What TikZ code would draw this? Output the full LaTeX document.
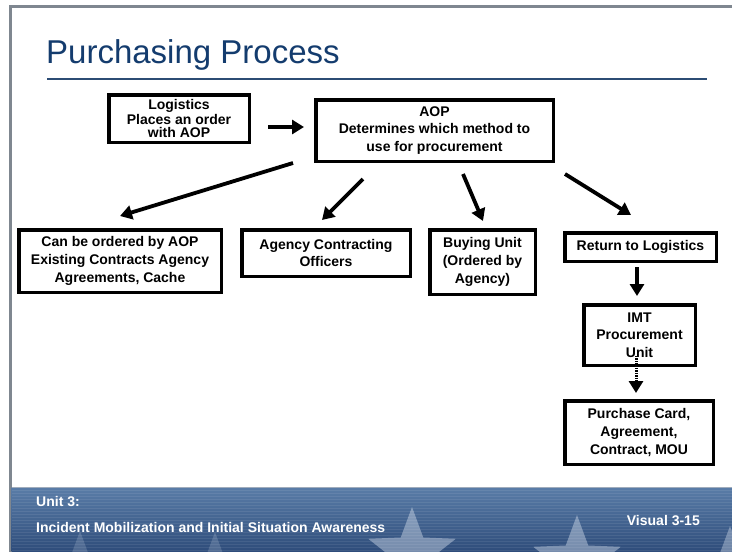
\documentclass[tikz,border=0pt]{standalone}
\usepackage{fontspec}
\setmainfont{Liberation Sans}
\usetikzlibrary{arrows.meta,shapes.geometric}
\definecolor{titleblue}{HTML}{143C6E}
\definecolor{rulecol}{HTML}{2C4C74}
\definecolor{framegray}{HTML}{7F8790}
\definecolor{bantop}{HTML}{5A7DA8}
\definecolor{banbot}{HTML}{2E4C7A}
\definecolor{starcol}{HTML}{D0DBEA}
\begin{document}
\begin{tikzpicture}[x=1pt,y=-1pt,
  box/.style={draw=black,line width=3.5pt,fill=white,inner sep=0pt,align=center,
    font=\fontsize{14}{17.6}\selectfont\bfseries},
  arr/.style={line width=3.8pt,-{Triangle[length=12pt,width=14pt]}},
  dotarr/.style={line width=3pt,dash pattern=on 1.3pt off 1.1pt,-{Triangle[length=12pt,width=14pt]}},
  bantext/.style={text=white,inner sep=0pt,font=\fontsize{14}{16}\selectfont\bfseries},
  bgstar/.style={star,star points=5,star point ratio=2.4,fill=starcol,inner sep=0pt,draw=none},
]
\useasboundingbox (0,0) rectangle (732,552);
\fill[white] (0,0) rectangle (732,552);
% slide frame
\fill[framegray] (9,5) rectangle (11.5,552);
\fill[framegray] (9,5) rectangle (732,7.5);
% title
\node[anchor=base west,inner sep=0pt,text=titleblue,font=\fontsize{33}{33}\selectfont] (title) at (46,63) {Purchasing Process};
\draw[rulecol,line width=2pt] (47,79) -- (707,79);
% banner
\fill[top color=bantop,bottom color=banbot] (11.5,487) rectangle (732,552);
\begin{scope}
\clip (11.5,487) rectangle (732,552);
\node[bgstar,opacity=0.45,minimum size=92pt] (s1) at (412,553) {};
\node[bgstar,opacity=0.45,minimum size=92pt] (s2) at (577,561) {};
\node[bgstar,opacity=0.4,minimum size=84pt] (s3) at (730,568) {};
\node[bgstar,opacity=0.2,minimum size=80pt] (s4) at (215,572) {};
\node[bgstar,opacity=0.2,minimum size=70pt] (s5) at (80,566) {};
\foreach \yy in {490,493,...,552} \fill[white,opacity=0.08] (11.5,\yy) rectangle (732,\yy+1);
\end{scope}
\draw[color={rgb,255:red,160;green,172;blue,188},line width=1.5pt] (11.5,487.5) -- (732,487.5);
\node[bantext,anchor=west] (unit) at (36,502) {Unit 3:};
\node[bantext,anchor=west] (course) at (36,527) {Incident Mobilization and Initial Situation Awareness};
\node[bantext,anchor=east] (visual) at (700,521) {Visual 3-15};
% boxes
\node[box,minimum width=140.5pt,minimum height=47.5pt,font=\fontsize{14}{13}\selectfont\bfseries] (lg) at (179,118.5) {Logistics\\Places an order\\with AOP};
\node[box,minimum width=237.5pt,minimum height=61.5pt] (aop) at (434.5,130.5) {AOP\\Determines which method to\\use for procurement};
\node[box,minimum width=202.5pt,minimum height=62.5pt] (b1) at (120,261) {Can be ordered by AOP\\Existing Contracts Agency\\Agreements, Cache};
\node[box,minimum width=168.5pt,minimum height=46.5pt] (b2) at (326,253) {Agency Contracting\\Officers};
\node[box,minimum width=105.5pt,minimum height=64.5pt] (b3) at (482.5,262) {Buying Unit\\(Ordered by\\Agency)};
\node[box,minimum width=151.5pt,minimum height=28.5pt] (b4) at (640.5,247) {Return to Logistics};
\node[box,minimum width=111.5pt,minimum height=60.5pt] (imt) at (639.5,335) {IMT\\Procurement\\Unit};
\node[box,minimum width=148.5pt,minimum height=63.5pt] (pc) at (639,432.5) {Purchase Card,\\Agreement,\\Contract, MOU};
% connector end points
\coordinate (c0s) at (268,127); \coordinate (c0e) at (304,127);
\coordinate (c1s) at (293,163); \coordinate (c1e) at (120,216);
\coordinate (c2s) at (363,179); \coordinate (c2e) at (322,220);
\coordinate (c3s) at (463,174); \coordinate (c3e) at (483,221);
\coordinate (c4s) at (565,174); \coordinate (c4e) at (631,215);
\coordinate (c5s) at (637,267); \coordinate (c5e) at (637,296);
\coordinate (c6s) at (636,356); \coordinate (c6e) at (636,393);
\draw[arr] (c0s) -- (c0e);
\draw[arr] (c1s) -- (c1e);
\draw[arr] (c2s) -- (c2e);
\draw[arr] (c3s) -- (c3e);
\draw[arr] (c4s) -- (c4e);
\draw[arr] (c5s) -- (c5e);
\draw[dotarr] (c6s) -- (c6e);
\end{tikzpicture}
\end{document}
